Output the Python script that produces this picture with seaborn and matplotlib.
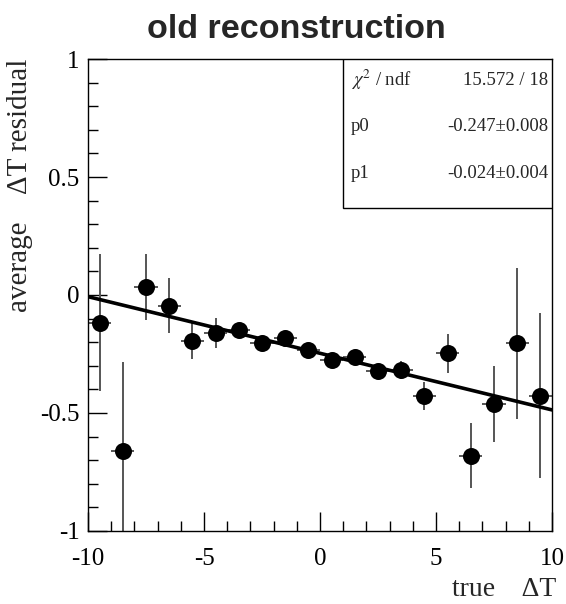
import numpy as np
import pandas as pd
import matplotlib
matplotlib.use("Agg")
import matplotlib.pyplot as plt
import seaborn as sns
from matplotlib.patches import Rectangle
from matplotlib.ticker import MultipleLocator

# ---- data ----
true_dT = [-9.5, -8.5, -7.5, -6.5, -5.5, -4.5, -3.5, -2.5, -1.5, -0.5,
           0.5, 1.5, 2.5, 3.5, 4.5, 5.5, 6.5, 7.5, 8.5, 9.5]
avg_residual = [-0.117, -0.661, 0.035, -0.045, -0.195, -0.162, -0.148, -0.202, -0.184, -0.232,
                -0.275, -0.264, -0.321, -0.318, -0.427, -0.247, -0.681, -0.462, -0.205, -0.427]
residual_err = [0.29, 0.378, 0.14, 0.116, 0.078, 0.064, 0.03, 0.02, 0.02, 0.02,
                0.02, 0.02, 0.025, 0.04, 0.06, 0.083, 0.137, 0.16, 0.32, 0.35]
bin_half_width = [0.5] * 20

fit_p0 = -0.247
fit_p1 = -0.024
fit_range = [-10, 10]
stats_rows = [(r"$\chi^2$ / ndf", "15.572 / 18"),
              ("p0", "-0.247\u00b10.008"),
              ("p1", "-0.024\u00b10.004")]

df = pd.DataFrame({"x": true_dT, "y": avg_residual, "err": residual_err, "xerr": bin_half_width})
fit_df = pd.DataFrame({"x": fit_range, "y": [fit_p0 + fit_p1 * v for v in fit_range]})

sns.set_theme(style="ticks")
plt.rcParams["font.family"] = ["Liberation Serif", "DejaVu Serif"]
plt.rcParams["mathtext.fontset"] = "stix"

fig = plt.figure(figsize=(5.66, 6.04), dpi=100)
ax = fig.add_axes([0.1555, 0.1209, 0.8198, 0.7814])

ax.errorbar(df["x"], df["y"], yerr=df["err"], xerr=df["xerr"], fmt="none",
            ecolor="#555555", elinewidth=1.4, capsize=0, zorder=2)
sns.scatterplot(data=df, x="x", y="y", ax=ax, s=150, color="black",
                edgecolor="black", linewidth=0, zorder=3, legend=False)
sns.lineplot(data=fit_df, x="x", y="y", ax=ax, color="black", linewidth=2.6, zorder=4)

ax.set_xlim(-10, 10)
ax.set_ylim(-1, 1)
ax.xaxis.set_major_locator(MultipleLocator(5))
ax.xaxis.set_minor_locator(MultipleLocator(1))
ax.yaxis.set_major_locator(MultipleLocator(0.5))
ax.yaxis.set_minor_locator(MultipleLocator(0.1))
ax.tick_params(which="both", direction="in", top=False, right=False, width=1, color="black",
               labelsize=18, labelcolor="black")
ax.tick_params(which="major", length=14)
ax.tick_params(which="minor", length=7)
ax.tick_params(axis="x", which="major", pad=12)
ax.tick_params(axis="y", which="major", pad=6)
ax.set_xticks([-10, -5, 0, 5, 10])
ax.set_xticklabels(["-10", "-5", "0", "5", "10"])
ax.set_yticks([-1, -0.5, 0, 0.5, 1])
ax.set_yticklabels(["-1", "-0.5", "0", "0.5", "1"])
for sp in ax.spines.values():
    sp.set_linewidth(1.0)
    sp.set_color("black")

ax.set_xlabel("true    \u0394T", fontsize=20, loc="right")
ax.xaxis.set_label_coords(1.009, -0.097)
ax.set_ylabel("average    \u0394T residual", fontsize=21, loc="top")
ax.yaxis.set_label_coords(-0.118, 1.0)

fig.suptitle("old reconstruction", family="Liberation Sans", fontweight="bold",
             fontsize=24.5, x=0.523, y=0.976, va="top")

# stats box
x0, x1, y0, y1 = 0.5496, 1.0, 0.684, 1.0
ax.add_patch(Rectangle((x0, y0), x1 - x0, y1 - y0, transform=ax.transAxes,
                       facecolor="white", edgecolor="black", linewidth=1.0, zorder=5))
row_y = [0.955, 0.857, 0.758]
for (lab, val), yy in zip(stats_rows, row_y):
    ax.text(0.566, yy, lab, transform=ax.transAxes, fontsize=13.5, va="center", ha="left", zorder=6)
    ax.text(0.992, yy, val, transform=ax.transAxes, fontsize=13.5, va="center", ha="right", zorder=6)

fig.savefig("out.png", dpi=100, facecolor="white")
